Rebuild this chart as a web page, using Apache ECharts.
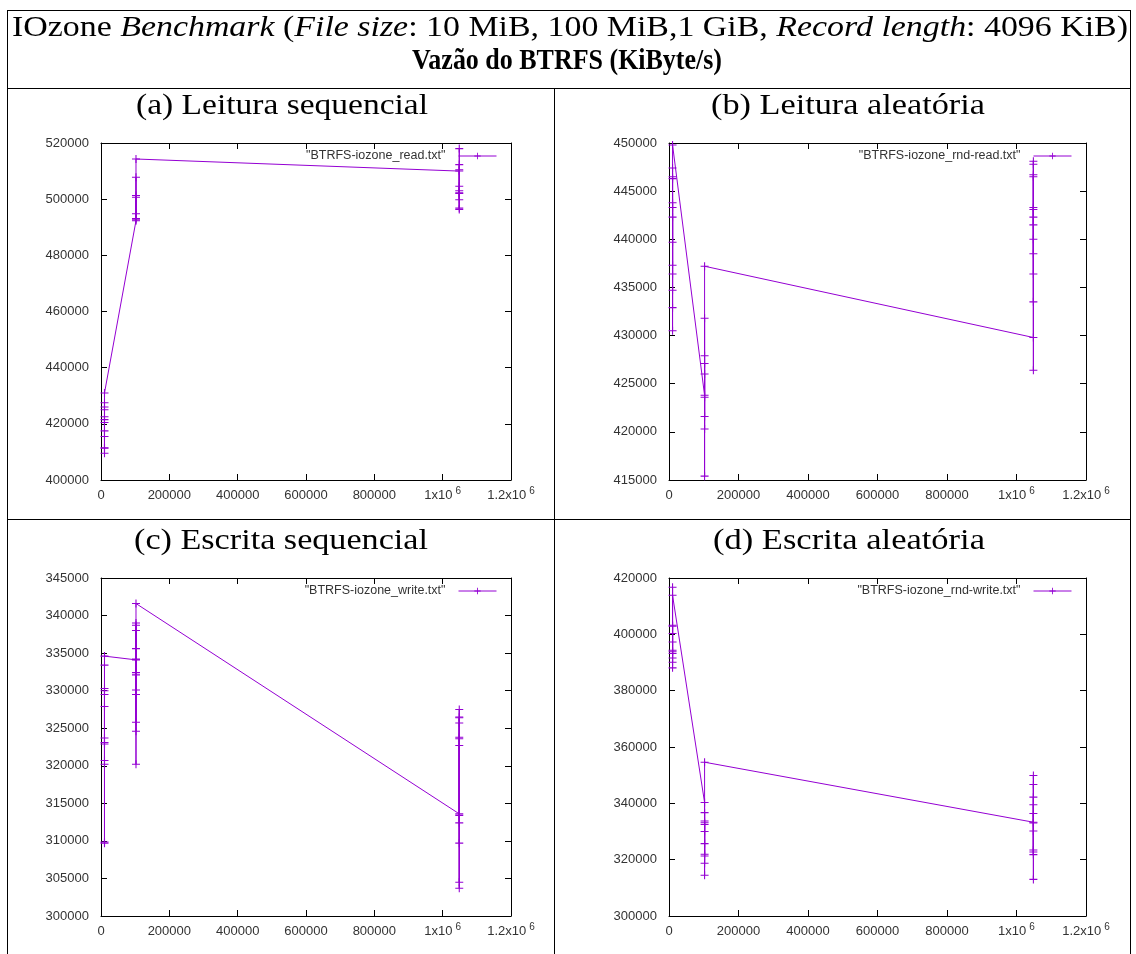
<!DOCTYPE html>
<html>
<head>
<meta charset="utf-8">
<script src="https://cdn.jsdelivr.net/npm/echarts@6/dist/echarts.min.js"></script>
<style>
  html, body { margin: 0; padding: 0; background: #fff; }
  #chart { width: 1136px; height: 954px; }
</style>
</head>
<body>
<div id="chart"></div>
<script>
// IOzone file sizes, in KiB: 10 MiB, 100 MiB, 1 GiB
const fileSizes = [10240, 102400, 1048576];

// Throughput of every run (KiB/s), in run order, one list per file size
const seqRead = [
  [425000, 411300, 421500, 417500, 409500, 426000, 420500, 415500, 422500, 411500, 427500, 431000],
  [492300, 501300, 494800, 500700, 493100, 507800, 492700, 514300],
  [510000, 502300, 518000, 499800, 504600, 496300, 512300, 503000, 496800, 502000, 510500]
];
const rndRead = [
  [436400, 443800, 430500, 447400, 439700, 442300, 434700, 446500, 432900, 443300, 437300, 446300, 449800],
  [423800, 427100, 415400, 431800, 421600, 426000, 423600, 420300, 427900, 437200],
  [429800, 443300, 436400, 447800, 426400, 440000, 446700, 433500, 442300, 448100, 438500, 446500, 441500, 443100]
];
const seqWrite = [
  [323100, 309850, 330300, 320700, 327900, 333400, 309700, 329500, 322900, 320200, 330000, 323700, 334600],
  [334100, 329500, 338700, 320200, 335600, 332400, 324600, 339000, 334200, 330100, 325800, 338000, 332100, 341600],
  [313600, 326500, 304500, 323800, 312400, 327500, 309700, 322700, 313400, 325700, 303700, 326400, 323600]
];
const rndWrite = [
  [400300, 393200, 403200, 390100, 416700, 397300, 388100, 394350, 402900, 391600, 393800, 413850],
  [340300, 333700, 321900, 336700, 318700, 332500, 330000, 314500, 333100, 325700, 321300, 354600],
  [333300, 346700, 322700, 339500, 313000, 349900, 330200, 323400, 342200, 321800, 336400, 333000]
];

// Tick settings of the y axes: [min, max, step]
const yTicks = [
  [400000, 520000, 20000],
  [415000, 450000, 5000],
  [300000, 345000, 5000],
  [300000, 420000, 20000]
];
// x axis ticks: 0 .. 1.2x10^6 every 200000
const xTicks = [0, 1200000, 200000];

const seriesNames = [
  '"BTRFS-iozone_read.txt"',
  '"BTRFS-iozone_rnd-read.txt"',
  '"BTRFS-iozone_write.txt"',
  '"BTRFS-iozone_rnd-write.txt"'
];
const panelTitles = [
  '(a) Leitura sequencial',
  '(b) Leitura aleatória',
  '(c) Escrita sequencial',
  '(d) Escrita aleatória'
];
const allRuns = [seqRead, rndRead, seqWrite, rndWrite];

// ---- layout ----
const W = 1136, H = 954;
const boxes = [
  { left: 101, top: 143, width: 410, height: 337 },
  { left: 669, top: 143, width: 417, height: 337 },
  { left: 101, top: 578, width: 410, height: 338 },
  { left: 669, top: 578, width: 417, height: 338 }
];
const PURPLE = '#9400d3';
const LABEL = '#333';
const AXIS_FONT = 'Liberation Sans';
const SERIF = 'Liberation Serif';
const plusSymbol = 'path://M0,3.9H9V5.1H0Z M3.9,0H5.1V9H3.9Z';

function runsToPoints(runs) {
  const pts = [];
  runs.forEach((vals, i) => vals.forEach(v => pts.push([fileSizes[i], v])));
  return pts;
}

function xLabel(v) {
  if (v >= 1000000) return (v / 1000000) + 'x10{s|6}';
  return String(v);
}

const xAxes = [], yAxes = [], grids = [], series = [], legends = [];
boxes.forEach((b, i) => {
  grids.push({ left: b.left, top: b.top, width: b.width, height: b.height, show: false });
  const tick = { show: true, inside: true, length: 6, lineStyle: { color: '#000', width: 1 } };
  const line = { show: true, onZero: false, lineStyle: { color: '#000', width: 1 } };
  xAxes.push({
    gridIndex: i, type: 'value', position: 'bottom',
    min: xTicks[0], max: xTicks[1], interval: xTicks[2],
    axisLine: line, axisTick: tick, splitLine: { show: false },
    axisLabel: {
      margin: 6, color: LABEL, fontFamily: AXIS_FONT, fontSize: 13, lineHeight: 18,
      formatter: xLabel,
      rich: { s: { fontSize: 10, lineHeight: 4, verticalAlign: 'top', padding: [0, 0, 0, 3], color: LABEL, fontFamily: AXIS_FONT } }
    }
  });
  xAxes.push({
    gridIndex: i, type: 'value', position: 'top',
    min: xTicks[0], max: xTicks[1], interval: xTicks[2],
    axisLine: line, axisTick: tick, splitLine: { show: false }, axisLabel: { show: false }
  });
  const yt = yTicks[i];
  yAxes.push({
    gridIndex: i, type: 'value', position: 'left',
    min: yt[0], max: yt[1], interval: yt[2],
    axisLine: line, axisTick: tick, splitLine: { show: false },
    axisLabel: { margin: 12, color: LABEL, fontFamily: AXIS_FONT, fontSize: 13, formatter: v => String(v) }
  });
  yAxes.push({
    gridIndex: i, type: 'value', position: 'right',
    min: yt[0], max: yt[1], interval: yt[2],
    axisLine: line, axisTick: tick, splitLine: { show: false }, axisLabel: { show: false }
  });
  series.push({
    type: 'line', name: seriesNames[i],
    xAxisIndex: 2 * i, yAxisIndex: 2 * i,
    data: runsToPoints(allRuns[i]),
    symbol: plusSymbol, symbolSize: 8, showSymbol: true, showAllSymbol: true,
    lineStyle: { color: PURPLE, width: 1 },
    itemStyle: { color: PURPLE },
    emphasis: { disabled: true },
    animation: false, silent: true, clip: false
  });
  legends.push({
    data: [seriesNames[i]],
    right: W - (b.left + b.width - 14), top: b.top + 6.5,
    align: 'right', padding: 0,
    itemWidth: 38, itemHeight: 8,
    selectedMode: false,
    lineStyle: { width: 1 },
    textStyle: { fontFamily: AXIS_FONT, fontSize: 12.5, color: LABEL, padding: [0, 8, 0, 0] }
  });
});

// ---- table and headings ----
const ctx = document.createElement('canvas').getContext('2d');
function measure(parts) {
  let w = 0;
  parts.forEach(p => { ctx.font = p[1]; w += ctx.measureText(p[0]).width; });
  return w;
}
const FS = 30;
const fNormal = FS + 'px "' + SERIF + '"';
const fItalic = 'italic ' + FS + 'px "' + SERIF + '"';
const fBold = 'bold ' + FS + 'px "' + SERIF + '"';

function heading(text, rich, parts, x0, x1, yc) {
  const s = (x1 - x0) / measure(parts);
  return {
    type: 'text', x: x0, y: yc, scaleX: s, silent: true,
    style: Object.assign({
      text: text, fontFamily: SERIF, fontSize: FS, fill: '#000',
      align: 'left', verticalAlign: 'middle'
    }, rich)
  };
}

const graphics = [];
const row1Parts = [
  ['IOzone ', fNormal], ['Benchmark', fItalic], [' (', fNormal], ['File size', fItalic],
  [': 10 MiB, 100 MiB,1 GiB, ', fNormal], ['Record length', fItalic], [': 4096 KiB)', fNormal]
];
graphics.push(heading(
  'IOzone {i|Benchmark} ({i|File size}: 10 MiB, 100 MiB,1 GiB, {i|Record length}: 4096 KiB)',
  { rich: { i: { fontStyle: 'italic', fontFamily: SERIF, fontSize: FS, fill: '#000' } } },
  row1Parts, 12, 1128, 28));
graphics.push(heading('Vazão do BTRFS (KiByte/s)', { fontWeight: 'bold' },
  [['Vazão do BTRFS (KiByte/s)', fBold]], 412, 722, 61));

const titleSpans = [[136, 428, 106], [711, 985, 106], [134, 428, 541], [713, 985, 541]];
panelTitles.forEach((t, i) => {
  const sp = titleSpans[i];
  graphics.push(heading(t, {}, [[t, fNormal]], sp[0], sp[1], sp[2]));
});

function hline(x1, x2, y, w) {
  return { type: 'line', silent: true, shape: { x1: x1, y1: y, x2: x2, y2: y }, style: { stroke: '#000', lineWidth: w } };
}
function vline(x, y1, y2, w) {
  return { type: 'line', silent: true, shape: { x1: x, y1: y1, x2: x, y2: y2 }, style: { stroke: '#000', lineWidth: w } };
}
graphics.push(hline(7, 1131, 10.5, 1));
graphics.push(hline(7, 1131, 88.5, 1));
graphics.push(hline(7, 1131, 519.5, 1));
graphics.push(vline(7.5, 10, H, 1));
graphics.push(vline(1130.5, 10, H, 1));
graphics.push(vline(554.5, 88, H, 1));

const chart = echarts.init(document.getElementById('chart'), null, { renderer: 'canvas', width: W, height: H });
chart.setOption({
  backgroundColor: '#fff',
  animation: false,
  grid: grids,
  xAxis: xAxes,
  yAxis: yAxes,
  legend: legends,
  series: series,
  graphic: graphics
});
</script>
</body>
</html>
